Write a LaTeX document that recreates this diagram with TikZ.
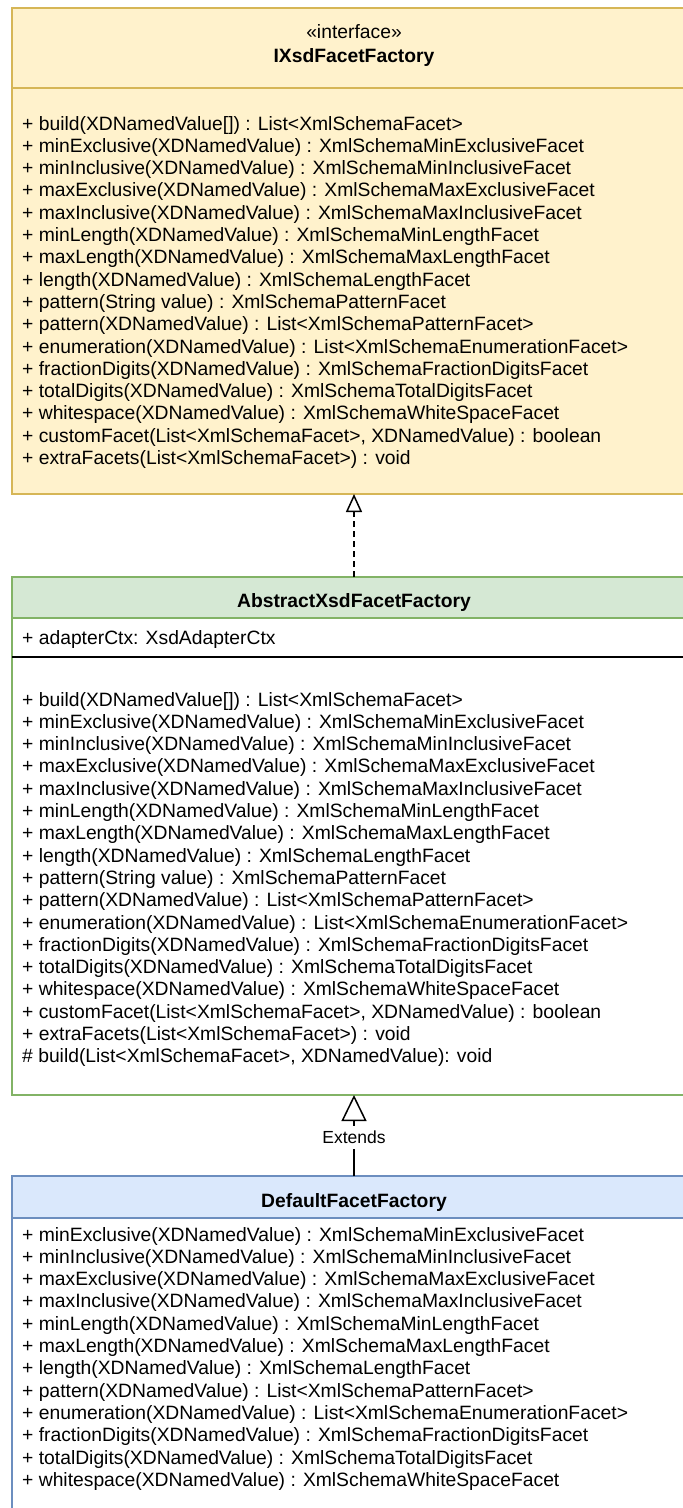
\documentclass[tikz,border=0pt]{standalone}
\usepackage{fontspec}
\setmainfont{Liberation Sans}
\usetikzlibrary{arrows.meta}
\definecolor{yfill}{HTML}{FFF2CC}
\definecolor{ystroke}{HTML}{D6B656}
\definecolor{gfill}{HTML}{D5E8D4}
\definecolor{gstroke}{HTML}{82B366}
\definecolor{bfill}{HTML}{DAE8FC}
\definecolor{bstroke}{HTML}{6C8EBF}
\tikzset{
  umlbox/.style={rectangle, draw, line width=1.6pt, minimum width=684pt, inner sep=0pt, outer sep=0pt, anchor=north west},
  member/.style={anchor=base west, inner sep=0pt, font=\fontsize{19.3}{22}\selectfont},
  classname/.style={anchor=base, inner sep=0pt, font=\bfseries\fontsize{19.3}{22}\selectfont},
  stereo/.style={anchor=base, inner sep=0pt, font=\fontsize{19.3}{22}\selectfont},
  realize/.style={line width=1.5pt, dash pattern=on 6pt off 4pt, -{Triangle[open, length=18pt, width=16pt]}},
  extend/.style={line width=1.5pt, -{Triangle[open, length=26pt, width=25pt]}},
  elabel/.style={fill=white, inner xsep=2pt, inner ysep=5pt, font=\fontsize{17.5}{20}\selectfont},
}
\begin{document}
\begin{tikzpicture}[x=1pt, y=-1pt]
\useasboundingbox (0,0) rectangle (683,1508);
\clip (0,0) rectangle (683,1508);
\fill[white] (0,0) rectangle (683,1508);

% ---------- IXsdFacetFactory ----------
\node[umlbox, fill=yfill, draw=ystroke, minimum height=80pt] (ahead) at (12,8) {};
\node[umlbox, fill=yfill, draw=ystroke, minimum height=406pt] (abody) at (12,88) {};
\node[stereo] (astereo) at (354,38) {«interface»};
\node[classname] (aname) at (354,62) {IXsdFacetFactory};
\foreach \t [count=\i] in {
  {+ build(XDNamedValue[]) : List<XmlSchemaFacet>},
  {+ minExclusive(XDNamedValue) : XmlSchemaMinExclusiveFacet},
  {+ minInclusive(XDNamedValue) : XmlSchemaMinInclusiveFacet},
  {+ maxExclusive(XDNamedValue) : XmlSchemaMaxExclusiveFacet},
  {+ maxInclusive(XDNamedValue) : XmlSchemaMaxInclusiveFacet},
  {+ minLength(XDNamedValue) : XmlSchemaMinLengthFacet},
  {+ maxLength(XDNamedValue) : XmlSchemaMaxLengthFacet},
  {+ length(XDNamedValue) : XmlSchemaLengthFacet},
  {+ pattern(String value) : XmlSchemaPatternFacet},
  {+ pattern(XDNamedValue) : List<XmlSchemaPatternFacet>},
  {+ enumeration(XDNamedValue) : List<XmlSchemaEnumerationFacet>},
  {+ fractionDigits(XDNamedValue) : XmlSchemaFractionDigitsFacet},
  {+ totalDigits(XDNamedValue) : XmlSchemaTotalDigitsFacet},
  {+ whitespace(XDNamedValue) : XmlSchemaWhiteSpaceFacet},
  {+ customFacet(List<XmlSchemaFacet>, XDNamedValue) : boolean},
  {+ extraFacets(List<XmlSchemaFacet>) : void}}
{\node[member] (a\i) at (22,{130+(\i-1)*22.3}) {\t};}

% ---------- AbstractXsdFacetFactory ----------
\node[umlbox, fill=gfill, draw=gstroke, minimum height=41pt] (bhead) at (12,577) {};
\node[umlbox, fill=white, draw=gstroke, minimum height=477pt] (bbody) at (12,618) {};
\draw[line width=1.6pt, black] (bbody.west |- 0,657) -- (bbody.east |- 0,657);
\node[classname] (bname) at (354,607) {AbstractXsdFacetFactory};
\node[member] (battr) at (22,644) {+ adapterCtx: XsdAdapterCtx};
\foreach \t [count=\i] in {
  {+ build(XDNamedValue[]) : List<XmlSchemaFacet>},
  {+ minExclusive(XDNamedValue) : XmlSchemaMinExclusiveFacet},
  {+ minInclusive(XDNamedValue) : XmlSchemaMinInclusiveFacet},
  {+ maxExclusive(XDNamedValue) : XmlSchemaMaxExclusiveFacet},
  {+ maxInclusive(XDNamedValue) : XmlSchemaMaxInclusiveFacet},
  {+ minLength(XDNamedValue) : XmlSchemaMinLengthFacet},
  {+ maxLength(XDNamedValue) : XmlSchemaMaxLengthFacet},
  {+ length(XDNamedValue) : XmlSchemaLengthFacet},
  {+ pattern(String value) : XmlSchemaPatternFacet},
  {+ pattern(XDNamedValue) : List<XmlSchemaPatternFacet>},
  {+ enumeration(XDNamedValue) : List<XmlSchemaEnumerationFacet>},
  {+ fractionDigits(XDNamedValue) : XmlSchemaFractionDigitsFacet},
  {+ totalDigits(XDNamedValue) : XmlSchemaTotalDigitsFacet},
  {+ whitespace(XDNamedValue) : XmlSchemaWhiteSpaceFacet},
  {+ customFacet(List<XmlSchemaFacet>, XDNamedValue) : boolean},
  {+ extraFacets(List<XmlSchemaFacet>) : void},
  {\# build(List<XmlSchemaFacet>, XDNamedValue): void}}
{\node[member] (b\i) at (22,{706+(\i-1)*22.3}) {\t};}

% ---------- DefaultFacetFactory ----------
\node[umlbox, fill=bfill, draw=bstroke, minimum height=42pt] (chead) at (12,1176) {};
\node[umlbox, fill=white, draw=bstroke, minimum height=400pt] (cbody) at (12,1218) {};
\node[classname] (cname) at (354,1207) {DefaultFacetFactory};
\foreach \t [count=\i] in {
  {+ minExclusive(XDNamedValue) : XmlSchemaMinExclusiveFacet},
  {+ minInclusive(XDNamedValue) : XmlSchemaMinInclusiveFacet},
  {+ maxExclusive(XDNamedValue) : XmlSchemaMaxExclusiveFacet},
  {+ maxInclusive(XDNamedValue) : XmlSchemaMaxInclusiveFacet},
  {+ minLength(XDNamedValue) : XmlSchemaMinLengthFacet},
  {+ maxLength(XDNamedValue) : XmlSchemaMaxLengthFacet},
  {+ length(XDNamedValue) : XmlSchemaLengthFacet},
  {+ pattern(XDNamedValue) : List<XmlSchemaPatternFacet>},
  {+ enumeration(XDNamedValue) : List<XmlSchemaEnumerationFacet>},
  {+ fractionDigits(XDNamedValue) : XmlSchemaFractionDigitsFacet},
  {+ totalDigits(XDNamedValue) : XmlSchemaTotalDigitsFacet},
  {+ whitespace(XDNamedValue) : XmlSchemaWhiteSpaceFacet}}
{\node[member] (c\i) at (22,{1241+(\i-1)*22.3}) {\t};}

% ---------- connectors ----------
\draw[realize] (bhead.north) -- (abody.south);
\draw[extend] (chead.north) -- (bbody.south) node[elabel, pos=0.48] (ext) {Extends};
\end{tikzpicture}
\end{document}
